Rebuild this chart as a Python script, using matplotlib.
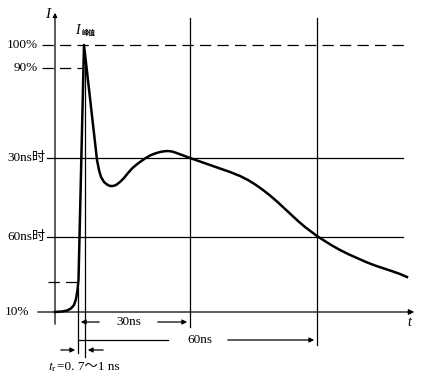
import numpy as np
import matplotlib
matplotlib.use('Agg')
from matplotlib import pyplot as plt

plt.rcParams['font.family'] = ['Liberation Serif', 'Noto Sans CJK SC', 'DejaVu Sans']
plt.rcParams['mathtext.fontset'] = 'stix'

# waveform (x, y in picture pixels, y grows downward)
curve_x = [55, 62, 67, 71, 74, 76, 77.5, 78.5, 84, 97, 99, 101, 104, 107, 110, 113, 116,
           120, 124, 128, 132, 136, 140, 145, 150, 155, 160, 164, 168, 172, 176, 182,
           190, 200, 210, 220, 230, 240, 248, 256, 263, 270, 277, 284, 291, 298, 305,
           311, 317, 324, 332, 340, 348, 357, 366, 375, 384, 393, 400, 407]
curve_y = [312, 311.5, 310.5, 308.5, 305, 299, 290, 280, 45, 160, 170, 177, 182, 184.5,
           186, 186, 185, 182, 178, 173, 168.5, 165, 162, 158.5, 155.5, 153.5, 152,
           151.3, 151, 151.5, 152.8, 155, 158, 161.5, 165, 168.5, 172, 176, 180,
           185, 190, 195.5, 201.5, 208, 214.5, 221, 227, 231.5, 236, 240.5, 245.5,
           250, 254, 258, 262, 265.5, 268.5, 271.5, 274, 277]

# reference levels: label, y, x start, x end, dashed
levels = [('100%', 45, 42, 407, True),
          ('90%', 68, 42, 82, True),
          ('30ns时', 158, 47, 403, False),
          ('60ns时', 237, 47, 403, False),
          ('', 282, 48, 77, True)]
label_right = {'100%': 38, '90%': 38, '30ns时': 46, '60ns时': 46}

# vertical markers: x, y top, y bottom
verticals = [(190, 18, 327), (317, 18, 345), (78, 288, 353), (85, 60, 357)]

fig = plt.figure(figsize=(4.32, 3.87), dpi=100)
ax = fig.add_axes([0, 0, 1, 1])
ax.set_xlim(0, 432)
ax.set_ylim(387, 0)
ax.axis('off')

lw = 0.9
for name, y, x0, x1, dashed in levels:
    ls = (0, (9, 5)) if dashed else '-'
    ax.plot([x0, x1], [y, y], color='black', lw=lw, ls=ls)
    if name:
        ax.text(label_right[name], y, name, ha='right', va='center', fontsize=9.5)

for x, y0, y1 in verticals:
    ax.plot([x, x], [y0, y1], color='black', lw=lw)

# axes with arrows
ax.annotate('', xy=(417, 312), xytext=(35, 312),
            arrowprops=dict(arrowstyle='-|>', color='black', lw=lw, mutation_scale=8))
ax.annotate('', xy=(55, 10), xytext=(55, 327),
            arrowprops=dict(arrowstyle='-|>', color='black', lw=lw, mutation_scale=6))
ax.text(5, 312, '10%', ha='left', va='center', fontsize=9.5)
ax.text(48, 14, 'I', ha='center', va='center', fontsize=11, style='italic')
ax.text(409, 323, 't', ha='center', va='center', fontsize=10, style='italic')
ax.text(77, 30, 'I', ha='center', va='center', fontsize=10, style='italic')
ax.text(82, 32, '峰值', ha='left', va='center', fontsize=5, fontweight='bold')

# the waveform
ax.plot(curve_x, curve_y, color='black', lw=1.8, solid_joinstyle='round')

# dimension arrows
arr = dict(arrowstyle='-|>', color='black', lw=lw, mutation_scale=7)
ax.annotate('', xy=(78, 322), xytext=(102, 322), arrowprops=arr)
ax.annotate('', xy=(190, 322), xytext=(155, 322), arrowprops=arr)
ax.text(129, 322, '30ns', ha='center', va='center', fontsize=9.5)
ax.plot([78, 168], [340, 340], color='black', lw=lw)
ax.annotate('', xy=(317, 340), xytext=(225, 340), arrowprops=arr)
ax.text(200, 340, '60ns', ha='center', va='center', fontsize=9.5)
ax.annotate('', xy=(78, 350), xytext=(58, 350), arrowprops=arr)
ax.annotate('', xy=(85, 350), xytext=(106, 350), arrowprops=arr)
ax.text(48, 367, r'$t_{\rm r}$', ha='left', va='center', fontsize=9.5)
ax.text(57, 367, '=0. 7～1 ns', ha='left', va='center', fontsize=9.5)

fig.savefig('out.png', dpi=100)
